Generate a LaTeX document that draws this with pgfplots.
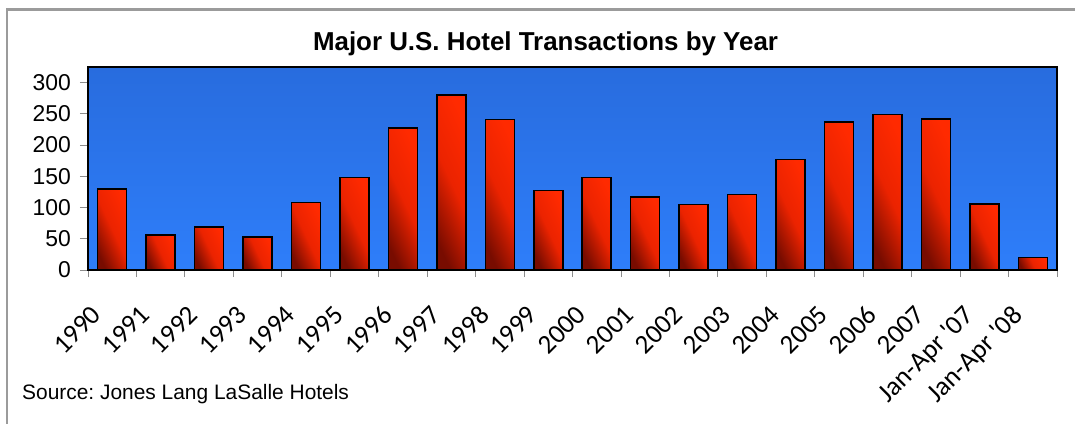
\documentclass[border=0pt]{standalone}
\usepackage{fontspec}
\setmainfont{Liberation Sans}
\newfontfamily\carlito{Carlito}
\usepackage{pgfplots}
\pgfplotsset{compat=1.18}
\definecolor{bgtop}{RGB}{40,108,222}
\definecolor{bgbot}{RGB}{46,126,250}
\definecolor{bardark}{RGB}{120,12,0}
\definecolor{barmid}{RGB}{235,35,0}
\definecolor{barbright}{RGB}{255,42,0}
\definecolor{framegray}{RGB}{155,155,155}
\definecolor{tickgray}{RGB}{140,140,140}
\frenchspacing
\pgfplotsset{hbar/.style={ybar, bar width=29bp, bar shift=0pt, draw=black, line width=1.5bp,
  top color=bardark, bottom color=barbright, middle color=barmid, shading angle=115}}
\begin{document}
\begin{tikzpicture}
\useasboundingbox (0,0) rectangle (1075bp,-424bp);
\fill[white] (0,0) rectangle (1075bp,-424bp);
\draw[framegray, line width=2.2bp] (7bp,-425bp) -- (7bp,-9.5bp) -- (1076bp,-9.5bp);
\node[anchor=base, font=\bfseries\fontsize{26}{30}\selectfont] at (545.5bp,-50bp) {Major U.S. Hotel Transactions by Year};
\node[anchor=base west, font=\fontsize{21}{25}\selectfont, inner sep=0pt] at (22bp,-399bp) {Source: Jones Lang LaSalle Hotels};
\begin{axis}[
  at={(88bp,-270bp)}, anchor=south west,
  scale only axis, width=969bp, height=203bp,
  xmin=-0.5, xmax=19.5, ymin=0, ymax=325,
  axis background/.style={shade, top color=bgtop, bottom color=bgbot},
  axis line style={black, line width=1.6bp},
  ytick={0,50,...,300},
  xtick={0,...,19},
  xticklabels={1990,1991,1992,1993,1994,1995,1996,1997,1998,1999,2000,2001,2002,2003,2004,2005,2006,2007,{Jan-Apr '07},{Jan-Apr '08}},
  minor xtick={-0.5,0.5,...,19.5},
  tick align=outside, tick pos=left,
  major tick length=8bp, minor tick length=7bp,
  major x tick style={draw=none},
  minor x tick style={tickgray, line width=0.9bp},
  major y tick style={tickgray, line width=0.9bp},
  /pgf/number format/assume math mode=true,
  yticklabel style={font=\fontsize{23}{27}\selectfont, anchor=east, inner sep=0pt, xshift=-9bp},
  xticklabel style={font=\carlito\fontsize{27}{31}\selectfont, xshift=-22bp, yshift=-26bp, rotate=45, anchor=north east, inner sep=0pt},
]
\addplot[hbar] coordinates {(0,130)};
\addplot[hbar] coordinates {(1,56)};
\addplot[hbar] coordinates {(2,69)};
\addplot[hbar] coordinates {(3,53)};
\addplot[hbar] coordinates {(4,108)};
\addplot[hbar] coordinates {(5,148)};
\addplot[hbar] coordinates {(6,227)};
\addplot[hbar] coordinates {(7,280)};
\addplot[hbar] coordinates {(8,241)};
\addplot[hbar] coordinates {(9,127)};
\addplot[hbar] coordinates {(10,148)};
\addplot[hbar] coordinates {(11,117)};
\addplot[hbar] coordinates {(12,105)};
\addplot[hbar] coordinates {(13,121)};
\addplot[hbar] coordinates {(14,177)};
\addplot[hbar] coordinates {(15,237)};
\addplot[hbar] coordinates {(16,249)};
\addplot[hbar] coordinates {(17,242)};
\addplot[hbar] coordinates {(18,106)};
\addplot[hbar] coordinates {(19,20)};
\end{axis}
\end{tikzpicture}
\end{document}
